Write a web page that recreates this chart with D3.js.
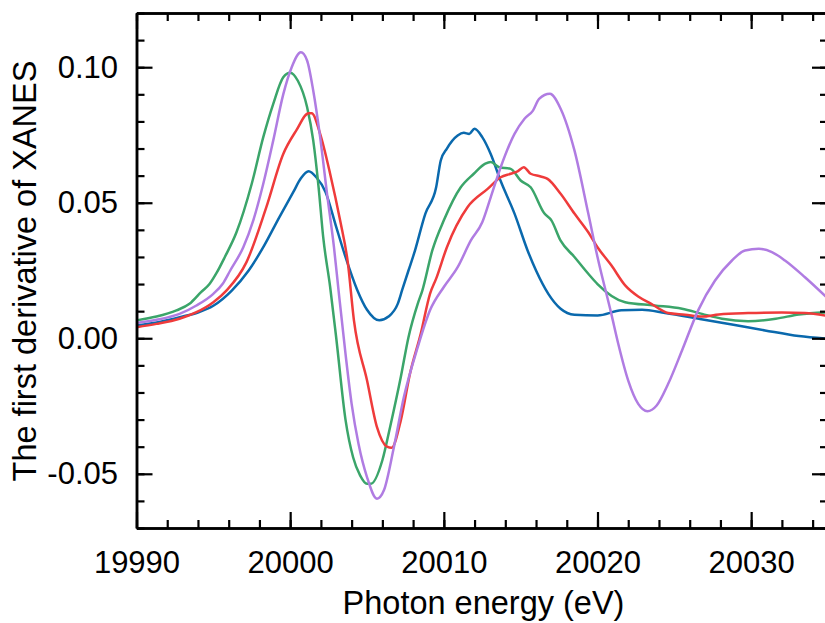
<!DOCTYPE html>
<html>
<head>
<meta charset="utf-8">
<script src="https://cdn.jsdelivr.net/npm/d3@7"></script>
<style>
  body { margin: 0; background: #fff; }
  svg { display: block; }
  text { font-family: "Liberation Sans", Arial, sans-serif; fill: #000; }
</style>
</head>
<body>
<svg id="chart" width="825" height="623"></svg>
<script>
// [photon energy (eV), first derivative]
const blueSeries = [
  [19990, 0.0047], [19991.5, 0.0060], [19993, 0.0080], [19994, 0.0095], [19995, 0.0120],
  [19996.2, 0.0176], [19997.3, 0.0250], [19998.25, 0.0336], [19999.3, 0.0447], [20000.2, 0.0539],
  [20000.7, 0.0590], [20001.2, 0.0616], [20001.7, 0.0594], [20002.3, 0.0540], [20003.0, 0.0410],
  [20003.6, 0.0300], [20004.35, 0.0180], [20005, 0.0105], [20005.8, 0.0066], [20006.4, 0.0080],
  [20007, 0.0127], [20007.3, 0.0180], [20007.7, 0.0250], [20008.05, 0.0310], [20008.8, 0.0460],
  [20009.5, 0.0557], [20009.8, 0.0656], [20010.2, 0.0700], [20010.9, 0.0748], [20011.3, 0.0758],
  [20011.65, 0.0754], [20012, 0.0773], [20012.5, 0.0742], [20013.05, 0.0680], [20013.7, 0.0580],
  [20014.6, 0.0460], [20015.45, 0.0324], [20016, 0.0250], [20016.8, 0.0164], [20017.6, 0.0109],
  [20018.5, 0.0087], [20020, 0.0084], [20021.55, 0.0103], [20022.9, 0.0105], [20024.4, 0.0093],
  [20026.6, 0.0072], [20028.75, 0.0051], [20030.9, 0.0029], [20033.1, 0.0008], [20035, -0.0002]
];

const greenSeries = [
  [19990, 0.0066], [19991.3, 0.0080], [19992.6, 0.0103], [19993.45, 0.0127], [19994.2, 0.0170],
  [19994.75, 0.0200], [19995.2, 0.0240], [19995.75, 0.0300], [19996.5, 0.0390], [19997.5, 0.0570],
  [19998.25, 0.0742], [19998.9, 0.0865], [19999.55, 0.0963], [20000, 0.0980], [20000.5, 0.0950],
  [20001.1, 0.0853], [20001.5, 0.0730], [20001.85, 0.0557], [20002.15, 0.0373], [20002.6, 0.0190],
  [20003.0, 0.0000], [20003.6, -0.0300], [20004.1, -0.0440], [20004.55, -0.0506], [20005.0, -0.0537],
  [20005.25, -0.0537], [20006, -0.0450], [20006.5, -0.0328], [20007.2, -0.0143], [20007.7, 0.0004],
  [20008.3, 0.0127], [20008.6, 0.0176], [20009.25, 0.0324], [20010, 0.0435], [20011.1, 0.0557],
  [20011.95, 0.0607], [20012.7, 0.0644], [20013.05, 0.0650], [20013.6, 0.0631], [20014.35, 0.0625],
  [20015.0, 0.0582], [20015.65, 0.0557], [20016.55, 0.0460], [20017, 0.0435], [20017.6, 0.0360],
  [20018.5, 0.0300], [20019.4, 0.0238], [20020, 0.0200], [20021.8, 0.0133], [20023.7, 0.0121],
  [20025.5, 0.0109], [20026.8, 0.0090], [20028.1, 0.0072], [20029.8, 0.0063], [20031.6, 0.0072],
  [20033.1, 0.0088], [20035, 0.0096]
];

const redSeries = [
  [19990, 0.0041], [19991.3, 0.0053], [19992.8, 0.0072], [19993.9, 0.0096], [19995, 0.0133],
  [19995.85, 0.0176], [19997.15, 0.0280], [19998.45, 0.0484], [19999.55, 0.0680], [20000.4, 0.0767],
  [20001.2, 0.0830], [20001.4, 0.0830], [20001.95, 0.0754], [20002.6, 0.0607], [20003.25, 0.0435],
  [20003.75, 0.0280], [20004.15, 0.0066], [20005, -0.0155], [20005.65, -0.0328], [20006.3, -0.0400],
  [20006.6, -0.0404], [20007.2, -0.0303], [20007.8, -0.0130], [20008.5, 0.0017], [20009.1, 0.0164],
  [20009.5, 0.0220], [20010.2, 0.0336], [20011.55, 0.0484], [20012.85, 0.0551], [20013.7, 0.0594],
  [20014.35, 0.0607], [20014.8, 0.0616], [20015.2, 0.0631], [20015.65, 0.0607], [20016.3, 0.0597],
  [20016.75, 0.0588], [20017.6, 0.0533], [20018.5, 0.0460], [20019.4, 0.0391], [20020, 0.0336],
  [20020.9, 0.0269], [20021.8, 0.0195], [20022.65, 0.0154], [20023.5, 0.0127], [20024.6, 0.0093],
  [20025.7, 0.0087], [20026.8, 0.0080], [20027.9, 0.0088], [20029.8, 0.0093], [20032, 0.0095],
  [20033.5, 0.0093], [20035, 0.0082]
];

const purpleSeries = [
  [19990, 0.0056], [19991.3, 0.0068], [19992.8, 0.0090], [19993.9, 0.0121], [19995, 0.0164],
  [19995.6, 0.0200], [19996.1, 0.0250], [19996.95, 0.0336], [19997.6, 0.0435], [19998.25, 0.0570],
  [19998.9, 0.0730], [19999.55, 0.0900], [20000.1, 0.1000], [20000.7, 0.1055], [20001.1, 0.1025],
  [20001.5, 0.0914], [20001.95, 0.0742], [20002.4, 0.0533], [20002.85, 0.0336], [20003.15, 0.0176],
  [20003.6, -0.0057], [20004.0, -0.0242], [20004.45, -0.0390], [20005, -0.0512], [20005.65, -0.0592],
  [20006.1, -0.0561], [20006.75, -0.0402], [20007.4, -0.0217], [20008.3, -0.0033], [20009.1, 0.0103],
  [20010, 0.0189], [20010.9, 0.0262], [20011.75, 0.0360], [20012.5, 0.0428], [20013.05, 0.0520],
  [20013.7, 0.0631], [20014.6, 0.0754], [20015.25, 0.0810], [20015.8, 0.0840], [20016.2, 0.0883],
  [20016.9, 0.0902], [20017.6, 0.0847], [20018.5, 0.0693], [20019.4, 0.0460], [20020, 0.0300],
  [20020.9, 0.0090], [20021.35, -0.0020], [20022, -0.0156], [20022.65, -0.0242], [20023.25, -0.0269],
  [20023.85, -0.0248], [20024.6, -0.0168], [20025.5, -0.0045], [20026.55, 0.0103], [20027.65, 0.0213],
  [20028.75, 0.0287], [20029.6, 0.0324], [20030.5, 0.0330], [20031.35, 0.0318], [20032.2, 0.0287],
  [20033.5, 0.0225], [20035, 0.0146]
];

const xMajorTicks = [19990, 20000, 20010, 20020, 20030];
const xMinorTicks = d3.range(19990, 20036, 2);
const yMajorTicks = [-0.05, 0, 0.05, 0.10];
const yMinorTicks = d3.range(-7, 13).map(d => d / 100);

const series = [
  { data: blueSeries, color: "#0a69ad" },
  { data: greenSeries, color: "#3ba56a" },
  { data: redSeries, color: "#ef3b3b" },
  { data: purpleSeries, color: "#b07ce2" }
];

const margin = { left: 136.5, top: 13, right: 828, bottom: 528 };

const svg = d3.select("#chart");

const x = d3.scaleLinear().domain([19990, 20035]).range([margin.left, margin.right]);
const y = d3.scaleLinear().domain([-0.07, 0.12]).range([margin.bottom, margin.top]);

const line = d3.line()
  .x(d => x(d[0]))
  .y(d => y(d[1]))
  .curve(d3.curveMonotoneX);

svg.append("defs").append("clipPath").attr("id", "clip")
  .append("rect")
  .attr("x", margin.left).attr("y", margin.top)
  .attr("width", margin.right - margin.left).attr("height", margin.bottom - margin.top);

const plot = svg.append("g").attr("clip-path", "url(#clip)");
series.forEach(s => {
  plot.append("path")
    .datum(s.data)
    .attr("fill", "none")
    .attr("stroke", s.color)
    .attr("stroke-width", 2.5)
    .attr("stroke-linejoin", "round")
    .attr("d", line);
});

function styleAxis(g) {
  g.selectAll("path.domain").attr("stroke", "#000").attr("stroke-width", 2.5);
  g.selectAll(".tick line").attr("stroke", "#000").attr("stroke-width", 2.2);
  g.selectAll(".tick text").style("font-size", "31px");
}

// plain hyphen for negatives, as in the figure
const yFormat = d => d3.format(".2f")(d).replace("\u2212", "-");

// minor ticks first, majors over them
const axes = [
  { gen: d3.axisBottom, pos: `translate(0,${margin.bottom})`, scale: x, ticks: xMinorTicks, size: -8, labels: false },
  { gen: d3.axisTop, pos: `translate(0,${margin.top})`, scale: x, ticks: xMinorTicks, size: -8, labels: false },
  { gen: d3.axisLeft, pos: `translate(${margin.left},0)`, scale: y, ticks: yMinorTicks, size: -8, labels: false },
  { gen: d3.axisRight, pos: `translate(${margin.right},0)`, scale: y, ticks: yMinorTicks, size: -8, labels: false },
  { gen: d3.axisBottom, pos: `translate(0,${margin.bottom})`, scale: x, ticks: xMajorTicks, size: -16, labels: true, pad: 22.5 },
  { gen: d3.axisTop, pos: `translate(0,${margin.top})`, scale: x, ticks: xMajorTicks, size: -16, labels: false },
  { gen: d3.axisLeft, pos: `translate(${margin.left},0)`, scale: y, ticks: yMajorTicks, size: -16, labels: true, pad: 18.5 },
  { gen: d3.axisRight, pos: `translate(${margin.right},0)`, scale: y, ticks: yMajorTicks, size: -16, labels: false }
];

axes.forEach(a => {
  const ax = a.gen(a.scale)
    .tickValues(a.ticks)
    .tickSizeInner(a.size)
    .tickSizeOuter(0)
    .tickPadding(a.pad || 0);
  if (!a.labels) ax.tickFormat("");
  else if (a.scale === y) ax.tickFormat(yFormat);
  else ax.tickFormat(d3.format("d"));
  const g = svg.append("g").attr("transform", a.pos).call(ax);
  styleAxis(g);
  if (!a.labels) g.selectAll(".tick text").remove();
});

svg.append("text")
  .attr("x", 483.5)
  .attr("y", 614)
  .attr("text-anchor", "middle")
  .style("font-size", "32.5px")
  .text("Photon energy (eV)");

svg.append("text")
  .attr("transform", `translate(36,271) rotate(-90)`)
  .attr("text-anchor", "middle")
  .style("font-size", "32.5px")
  .text("The first derivative of XANES");
</script>
</body>
</html>
